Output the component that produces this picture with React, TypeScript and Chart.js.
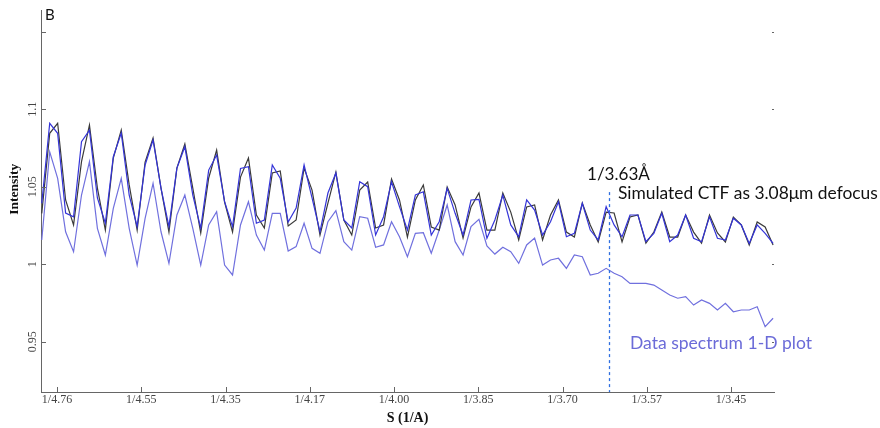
import React, { useEffect, useRef } from "react";
import { Chart, registerables } from "chart.js";

Chart.register(...registerables);

// Sampling grid of the spectrum (S in 1/Å)
const sStart = 0.20819;
const sStep = 0.0009435;

// Simulated CTF (black)
const simulatedCTF = [
  1.0329, 1.0845, 1.091, 1.0415, 1.0254, 1.0662, 1.0899, 1.0492, 1.0221, 1.0686,
  1.0866, 1.0512, 1.0221, 1.066, 1.0815, 1.0492, 1.0208, 1.0621, 1.0776, 1.0492,
  1.0202, 1.0557, 1.0737, 1.0402, 1.0208, 1.0563, 1.0686, 1.0318, 1.0234, 1.0589,
  1.0602, 1.0247, 1.0286, 1.0621, 1.0479, 1.0189, 1.0395, 1.0595, 1.0286, 1.0189,
  1.0479, 1.0531, 1.0234, 1.0254, 1.055, 1.0415, 1.0176, 1.0415, 1.0512, 1.0241,
  1.0221, 1.0499, 1.0383, 1.017, 1.037, 1.046, 1.0221, 1.0221, 1.046, 1.0337,
  1.0157, 1.037, 1.0383, 1.0157, 1.0318, 1.0415, 1.0208, 1.0176, 1.0395, 1.0254,
  1.0144, 1.0337, 1.0331, 1.0144, 1.0305, 1.0318, 1.0137, 1.0208, 1.0337, 1.0176,
  1.0176, 1.0318, 1.0208, 1.0137, 1.0318, 1.0202, 1.0144, 1.0305, 1.0254, 1.0125,
  1.0273, 1.0241, 1.0125,
];

// Background-subtracted data spectrum (blue, follows the CTF)
const fittedSpectrum = [
  1.0394, 1.091, 1.0845, 1.0331, 1.0307, 1.0791, 1.0866, 1.0428, 1.0266, 1.0694,
  1.0847, 1.0447, 1.0243, 1.0641, 1.0802, 1.0492, 1.0243, 1.0621, 1.0759, 1.0447,
  1.0234, 1.0608, 1.0705, 1.0404, 1.0243, 1.0619, 1.063, 1.0265, 1.0286, 1.0641,
  1.0555, 1.0273, 1.0363, 1.0641, 1.0428, 1.021, 1.046, 1.0589, 1.0286, 1.0234,
  1.0533, 1.0501, 1.0189, 1.0307, 1.0533, 1.0372, 1.0221, 1.0447, 1.0468, 1.0189,
  1.0275, 1.049, 1.0329, 1.0189, 1.0415, 1.0419, 1.0168, 1.0286, 1.0447, 1.0254,
  1.0178, 1.0415, 1.035, 1.0189, 1.0275, 1.0404, 1.0178, 1.02, 1.0394, 1.0221,
  1.0157, 1.0372, 1.0254, 1.0178, 1.0318, 1.0318, 1.0146, 1.02, 1.0329, 1.0146,
  1.0189, 1.0318, 1.0168, 1.0146, 1.0307, 1.0168, 1.0157, 1.0297, 1.0254, 1.0135,
  1.0254, 1.02, 1.0135,
];

// Raw data spectrum 1-D plot (light blue, lower)
const dataSpectrum = [
  1.0157, 1.0726, 1.0555, 1.021, 1.0081, 1.0447, 1.0662, 1.0232, 1.006, 1.0361,
  1.0555, 1.0232, 0.9995, 1.0297, 1.0523, 1.021, 1.0006, 1.0318, 1.0447, 1.0232,
  0.9995, 1.0254, 1.0339, 0.9995, 0.9931, 1.0254, 1.0404, 1.0189, 1.0092, 1.0329,
  1.0329, 1.0086, 1.0114, 1.0265, 1.0103, 1.0071, 1.0275, 1.0346, 1.0146, 1.0092,
  1.0307, 1.0297, 1.011, 1.0125, 1.0275, 1.0178, 1.0049, 1.02, 1.0204, 1.0071,
  1.0221, 1.0383, 1.0146, 1.006, 1.0243, 1.029, 1.0118, 1.0066, 1.011, 1.0081,
  1.0006, 1.0125, 1.017, 0.9995, 1.0028, 1.0039, 0.9974, 1.006, 1.0049, 0.9931,
  0.9942, 0.9974, 0.9942, 0.992, 0.9877, 0.9877, 0.9877, 0.9866, 0.9834, 0.9802,
  0.9781, 0.9791, 0.9737, 0.977, 0.9748, 0.9705, 0.9748, 0.9694, 0.9705, 0.9705,
  0.9726, 0.9597, 0.9652,
];

const xTickValues = [0.21, 0.22, 0.23, 0.24, 0.25, 0.26, 0.27, 0.28, 0.29];
const xTickLabels = ["1/4.76", "1/4.55", "1/4.35", "1/4.17", "1/4.00", "1/3.85", "1/3.70", "1/3.57", "1/3.45"];
const yTickValues = [0.95, 1, 1.05, 1.1, 1.15];
const yTickLabels = ["0.95", "1", "1.05", "1.1", ""];

const xMin = 0.2081;
const xMax = 0.2951;
const yMin = 0.9176;
const yMax = 1.1641;

const markerS = 1 / 3.63;
const markerTop = 1.0466;
const markerLabel = "1/3.63Å";
const ctfLabel = "Simulated CTF as 3.08μm defocus";
const dataLabel = "Data spectrum 1-D plot";
const panelLabel = "B";
const yTitle = "Intensity";
const yTitleCenter = 1.0485;

const toPoints = (vals: number[]) => vals.map((y, i) => ({ x: sStart + i * sStep, y }));

const fitFont = (ctx: CanvasRenderingContext2D, text: string, width: number, family: string) => {
  ctx.font = `100px ${family}`;
  const w = ctx.measureText(text).width;
  return (100 * width) / w;
};

const decorPlugin = {
  id: "decor",
  afterDraw(chart: any) {
    const { ctx, chartArea } = chart;
    const x = chart.scales.x;
    const y = chart.scales.y;
    const { left, right, bottom } = chartArea;
    ctx.save();
    ctx.strokeStyle = "#666";
    ctx.lineWidth = 1;
    // x ticks (inward)
    xTickValues.forEach((v) => {
      const px = Math.round(x.getPixelForValue(v)) + 0.5;
      ctx.beginPath();
      ctx.moveTo(px, bottom);
      ctx.lineTo(px, bottom - 5);
      ctx.stroke();
    });
    // y ticks (inward) and right-side small ticks
    yTickValues.forEach((v) => {
      const py = Math.round(y.getPixelForValue(v)) + 0.5;
      ctx.beginPath();
      ctx.moveTo(left, py);
      ctx.lineTo(left + 5, py);
      ctx.stroke();
      ctx.beginPath();
      ctx.moveTo(right - 2, py);
      ctx.lineTo(right, py);
      ctx.stroke();
    });
    // x tick labels
    ctx.fillStyle = "#444";
    ctx.font = '12px "Liberation Serif", serif';
    ctx.textAlign = "center";
    ctx.textBaseline = "top";
    xTickValues.forEach((v, i) => {
      ctx.fillText(xTickLabels[i], x.getPixelForValue(v), bottom + 2);
    });
    // y tick labels (rotated)
    ctx.textBaseline = "middle";
    yTickValues.forEach((v, i) => {
      if (!yTickLabels[i]) return;
      ctx.save();
      ctx.translate(33, y.getPixelForValue(v));
      ctx.rotate(-Math.PI / 2);
      ctx.fillText(yTickLabels[i], 0, 0);
      ctx.restore();
    });
    // y axis title
    ctx.save();
    ctx.fillStyle = "#111";
    ctx.font = 'bold 13.5px "Liberation Serif", serif';
    ctx.translate(15, y.getPixelForValue(yTitleCenter));
    ctx.rotate(-Math.PI / 2);
    ctx.fillText(yTitle, 0, 0);
    ctx.restore();
    // dashed marker line
    const mx = Math.round(x.getPixelForValue(markerS)) + 0.5;
    ctx.strokeStyle = "#2f6fe0";
    ctx.lineWidth = 1.3;
    ctx.setLineDash([3, 3]);
    ctx.beginPath();
    ctx.moveTo(mx, y.getPixelForValue(markerTop));
    ctx.lineTo(mx, bottom);
    ctx.stroke();
    ctx.setLineDash([]);
    // annotation texts
    const fam = "Lato, sans-serif";
    ctx.textAlign = "left";
    ctx.textBaseline = "alphabetic";
    ctx.fillStyle = "#111";
    let s = fitFont(ctx, markerLabel, 63, fam);
    ctx.font = `${s}px ${fam}`;
    ctx.fillText(markerLabel, 587, 180);
    s = fitFont(ctx, ctfLabel, 260, fam);
    ctx.font = `${s}px ${fam}`;
    ctx.fillText(ctfLabel, 618, 199);
    ctx.fillStyle = "#6b6bd8";
    s = fitFont(ctx, dataLabel, 182, fam);
    ctx.font = `${s}px ${fam}`;
    ctx.fillText(dataLabel, 630, 349);
    ctx.fillStyle = "#111";
    ctx.font = `15px ${fam}`;
    ctx.fillText(panelLabel, 45, 20);
    ctx.restore();
  },
};

export default function App() {
  const ref = useRef<HTMLCanvasElement | null>(null);
  useEffect(() => {
    document.body.style.margin = "0";
    const canvas = ref.current;
    if (!canvas) return;
    const chart = new Chart(canvas, {
      type: "line",
      data: {
        datasets: [
          {
            label: "Fitted spectrum",
            data: toPoints(fittedSpectrum),
            borderColor: "#3434d8",
            borderWidth: 1.2,
            pointRadius: 0,
            tension: 0,
          },
          {
            label: "Simulated CTF",
            data: toPoints(simulatedCTF),
            borderColor: "#3a3a3a",
            borderWidth: 1.2,
            pointRadius: 0,
            tension: 0,
          },
          {
            label: "Data spectrum 1-D plot",
            data: toPoints(dataSpectrum),
            borderColor: "#7070de",
            borderWidth: 1.2,
            pointRadius: 0,
            tension: 0,
          },
        ],
      },
      options: {
        responsive: false,
        animation: false,
        devicePixelRatio: 1,
        layout: { padding: { top: 10, right: 106, left: 0, bottom: 0 } },
        plugins: { legend: { display: false }, tooltip: { enabled: false } },
        scales: {
          x: {
            type: "linear",
            min: xMin,
            max: xMax,
            afterFit: (s: any) => {
              s.height = 36;
            },
            afterBuildTicks: (s: any) => {
              s.ticks = xTickValues.map((v) => ({ value: v }));
            },
            grid: { display: false },
            border: { display: true, color: "#666", width: 1 },
            ticks: { display: false },
            title: {
              display: true,
              text: "S (1/A)",
              color: "#111",
              font: { family: '"Liberation Serif", serif', size: 14, weight: "bold" },
              padding: { top: 0, bottom: 1 },
            },
          },
          y: {
            type: "linear",
            min: yMin,
            max: yMax,
            afterFit: (s: any) => {
              s.width = 41;
            },
            afterBuildTicks: (s: any) => {
              s.ticks = yTickValues.map((v) => ({ value: v }));
            },
            grid: { display: false },
            border: { display: true, color: "#666", width: 1 },
            ticks: { display: false },
            title: { display: false },
          },
        },
      },
      plugins: [decorPlugin],
    } as any);
    return () => chart.destroy();
  }, []);
  return (
    <div style={{ position: "fixed", left: 0, top: 0, width: 880, height: 428, background: "#fff" }}>
      <canvas ref={ref} width={880} height={428} style={{ display: "block" }} />
    </div>
  );
}
